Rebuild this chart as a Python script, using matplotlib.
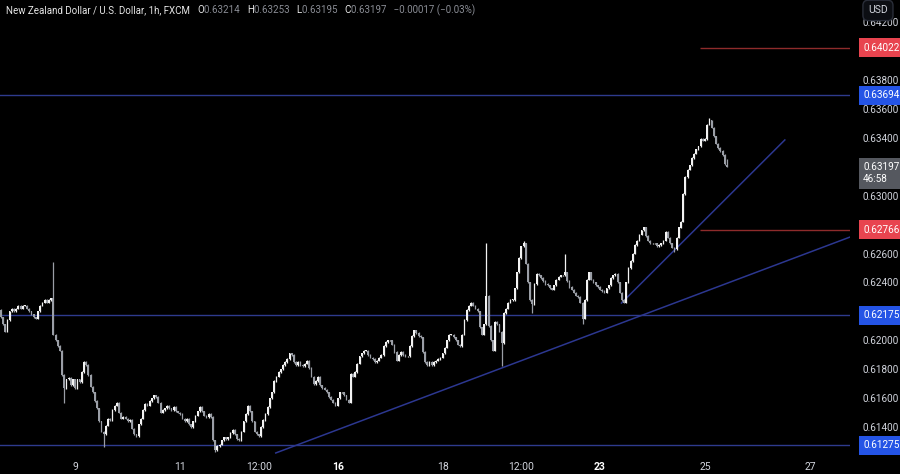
import numpy as np
import matplotlib.pyplot as plt
import matplotlib.transforms as mtransforms

plt.rcParams['font.family'] = ['Roboto', 'DejaVu Sans']

# hourly closes, NZD/USD (FXCM)
closes = [
    0.6221, 0.6216, 0.6211, 0.6206, 0.6214, 0.6220, 0.6222, 0.6220, 0.6222, 0.6224, 0.6222, 0.6224,
    0.6224, 0.6222, 0.6220, 0.6218, 0.6216, 0.6215, 0.6220, 0.6224, 0.6226, 0.6228, 0.6226, 0.6228,
    0.6229, 0.6204, 0.6200, 0.6196, 0.6193, 0.6176, 0.6167, 0.6173, 0.6174, 0.6169, 0.6173, 0.6167,
    0.6173, 0.6171, 0.6178, 0.6185, 0.6183, 0.6176, 0.6168, 0.6164, 0.6158, 0.6153, 0.6144, 0.6137,
    0.6135, 0.6141, 0.6146, 0.6145, 0.6152, 0.6155, 0.6157, 0.6150, 0.6146, 0.6147, 0.6146, 0.6144,
    0.6145, 0.6139, 0.6135, 0.6134, 0.6142, 0.6146, 0.6152, 0.6156, 0.6155, 0.6158, 0.6160, 0.6162,
    0.6161, 0.6157, 0.6150, 0.6152, 0.6153, 0.6155, 0.6153, 0.6152, 0.6154, 0.6151, 0.6150, 0.6149,
    0.6146, 0.6144, 0.6146, 0.6142, 0.6140, 0.6144, 0.6148, 0.6151, 0.6154, 0.6151, 0.6148, 0.6147,
    0.6149, 0.6147, 0.6131, 0.6124, 0.6127, 0.6128, 0.6131, 0.6133, 0.6132, 0.6133, 0.6136, 0.6138,
    0.6135, 0.6132, 0.6131, 0.6137, 0.6144, 0.6149, 0.6155, 0.6151, 0.6144, 0.6137, 0.6135, 0.6134,
    0.6140, 0.6145, 0.6149, 0.6154, 0.6160, 0.6164, 0.6172, 0.6175, 0.6178, 0.6180, 0.6183, 0.6185,
    0.6187, 0.6191, 0.6190, 0.6185, 0.6183, 0.6185, 0.6183, 0.6182, 0.6184, 0.6186, 0.6181, 0.6175,
    0.6170, 0.6172, 0.6175, 0.6169, 0.6167, 0.6166, 0.6164, 0.6161, 0.6159, 0.6157, 0.6155, 0.6160,
    0.6164, 0.6164, 0.6162, 0.6159, 0.6157, 0.6177, 0.6175, 0.6178, 0.6184, 0.6189, 0.6191, 0.6193,
    0.6193, 0.6190, 0.6188, 0.6187, 0.6185, 0.6186, 0.6188, 0.6190, 0.6196, 0.6199, 0.6200, 0.6200,
    0.6197, 0.6192, 0.6186, 0.6190, 0.6192, 0.6190, 0.6189, 0.6189, 0.6196, 0.6203, 0.6207, 0.6205,
    0.6203, 0.6202, 0.6192, 0.6185, 0.6183, 0.6185, 0.6183, 0.6185, 0.6186, 0.6187, 0.6188, 0.6191,
    0.6195, 0.6200, 0.6204, 0.6204, 0.6202, 0.6200, 0.6197, 0.6196, 0.6204, 0.6214, 0.6221, 0.6224,
    0.6226, 0.6224, 0.6222, 0.6220, 0.6209, 0.6204, 0.6211, 0.6231, 0.6210, 0.6200, 0.6193, 0.6213,
    0.6211, 0.6206, 0.6198, 0.6219, 0.6222, 0.6226, 0.6228, 0.6228, 0.6236, 0.6247, 0.6257, 0.6265,
    0.6267, 0.6253, 0.6240, 0.6228, 0.6225, 0.6239, 0.6246, 0.6245, 0.6243, 0.6241, 0.6239, 0.6238,
    0.6236, 0.6235, 0.6238, 0.6242, 0.6244, 0.6245, 0.6245, 0.6247, 0.6241, 0.6237, 0.6235, 0.6233,
    0.6231, 0.6230, 0.6226, 0.6215, 0.6228, 0.6242, 0.6247, 0.6242, 0.6240, 0.6238, 0.6237, 0.6235,
    0.6234, 0.6233, 0.6236, 0.6238, 0.6243, 0.6245, 0.6246, 0.6240, 0.6233, 0.6228, 0.6226, 0.6240,
    0.6250, 0.6255, 0.6260, 0.6266, 0.6269, 0.6273, 0.6276, 0.6278, 0.6272, 0.6269, 0.6267, 0.6267,
    0.6267, 0.6265, 0.6266, 0.6267, 0.6269, 0.6275, 0.6271, 0.6267, 0.6264, 0.6263, 0.6271, 0.6278,
    0.6282, 0.6301, 0.6313, 0.6318, 0.6321, 0.6326, 0.6329, 0.6332, 0.6334, 0.6339, 0.6338, 0.6339,
    0.6349, 0.6352, 0.6347, 0.6341, 0.6336, 0.6333, 0.6331, 0.6328, 0.6322, 0.63197,
]
last_ohlc = [0.63214, 0.63253, 0.63195, 0.63197]

# long wicks that stick out of the bodies
wick_hi = {25: 0.6254, 223: 0.6267, 259: 0.6260, 325: 0.63536, 240: 0.6269}
wick_lo = {30: 0.6157, 48: 0.6126, 99: 0.6123, 230: 0.6182, 244: 0.6219, 267: 0.6211, 309: 0.6261}

day_ticks = [35, 83, 119, 155, 203, 239, 275, 323, 371]
day_labels = ['9', '11', '12:00', '16', '18', '12:00', '23', '25', '27']
week_starts = ['16', '23']

price_ticks = [0.614, 0.616, 0.618, 0.620, 0.622, 0.624, 0.626, 0.628,
               0.630, 0.632, 0.634, 0.636, 0.638, 0.640, 0.642]
blue_levels = [0.63694, 0.62175, 0.61275]
red_levels = [0.64022, 0.62766]
red_start = 320.6
trend_long = [(126.7, 0.61222), (389.3, 0.62714)]
trend_short = [(284.8, 0.62258), (359.5, 0.63385)]

BG = '#000000'
TXT = '#d1d4dc'
BLUE_LINE = '#2e3b8e'
RED_LINE = '#8e2b2b'

n = len(closes)
idx = np.arange(n)
c = np.array(closes)
o = np.r_[c[0], c[:-1]]
o[-1] = last_ohlc[0]
hi = np.maximum(o, c) + 0.00005
lo = np.minimum(o, c) - 0.00005
for k, v in wick_hi.items():
    hi[k] = v
for k, v in wick_lo.items():
    lo[k] = v
hi[-1], lo[-1] = last_ohlc[1], last_ohlc[2]

fig = plt.figure(figsize=(9, 4.74), dpi=100, facecolor=BG)
ax = fig.add_axes([0, 19 / 474, 850 / 900, 455 / 474], facecolor=BG)

up = c >= o
cols = np.where(up, '#f2f2f2', '#9a9ea6')
ax.vlines(idx, lo, hi, colors=cols, linewidth=0.9, zorder=3)
body_h = np.maximum(np.abs(c - o), 0.00003)
ax.bar(idx, body_h, bottom=np.minimum(o, c), width=0.8, color=cols, linewidth=0, zorder=3)

for lv in blue_levels:
    ax.axhline(lv, color=BLUE_LINE, linewidth=1, zorder=2)
for lv in red_levels:
    ax.hlines(lv, red_start, 400, color=RED_LINE, linewidth=1, zorder=2)
for seg in [trend_long, trend_short]:
    ax.plot([seg[0][0], seg[1][0]], [seg[0][1], seg[1][1]], color='#2c3790', linewidth=1.1, zorder=2)

ax.set_xlim(0.6, 389.3)
ax.set_ylim(0.61208, 0.64352)
for s in ax.spines.values():
    s.set_visible(False)

ax.yaxis.tick_right()
ax.set_yticks(price_ticks)
ax.set_yticklabels([f'{p:.5f}' for p in price_ticks])
ax.tick_params(axis='y', length=0, pad=9, colors=TXT, labelsize=7.2)
ax.set_xticks(day_ticks)
ax.set_xticklabels(day_labels)
ax.tick_params(axis='x', length=0, pad=5, colors=TXT, labelsize=7.5)
for t in ax.get_xticklabels():
    if t.get_text() in week_starts:
        t.set_fontweight('bold')
        t.set_color('#ffffff')

trans = mtransforms.blended_transform_factory(ax.transAxes, ax.transData)
tag_x = 863 / 850


def price_tag(y, text, fc):
    ax.text(tag_x, y, text, transform=trans, ha='left', va='center', color='white',
            fontsize=7.2, clip_on=False, zorder=10,
            bbox=dict(boxstyle='square,pad=0.45', fc=fc, ec='none'))


for lv in blue_levels:
    price_tag(lv, f'{lv:.5f}', '#2454e6')
for lv in red_levels:
    price_tag(lv, f'{lv:.5f}', '#e8444f')
ax.text(tag_x, last_ohlc[3] - 0.00042, f'{last_ohlc[3]:.5f}\n46:58', transform=trans,
        ha='left', va='center', color='white', fontsize=7.2, clip_on=False, zorder=10,
        linespacing=1.25, bbox=dict(boxstyle='square,pad=0.45', fc='#55585f', ec='none'))

fig.text(0.9755, 0.978, 'USD', ha='center', va='center', color=TXT, fontsize=7.5,
         bbox=dict(boxstyle='round,pad=0.5', fc='#0c0e13', ec='#2a2e39'))

# header line
x0 = 0.007
y0 = 0.979
hdr = [('New Zealand Dollar / U.S. Dollar, 1h, FXCM   ', '#e6e6e6'),
       ('O', '#e6e6e6'), ('0.63214   ', '#8a8d95'),
       ('H', '#e6e6e6'), ('0.63253   ', '#8a8d95'),
       ('L', '#e6e6e6'), ('0.63195   ', '#8a8d95'),
       ('C', '#e6e6e6'), ('0.63197   \u22120.00017 (\u22120.03%)', '#8a8d95')]
fig.canvas.draw()
r = fig.canvas.get_renderer()
for s, col in hdr:
    t = fig.text(x0, y0, s, color=col, fontsize=7, ha='left', va='center')
    bb = t.get_window_extent(renderer=r)
    x0 += bb.width / fig.bbox.width

fig.savefig('out.png', dpi=100, facecolor=BG)
